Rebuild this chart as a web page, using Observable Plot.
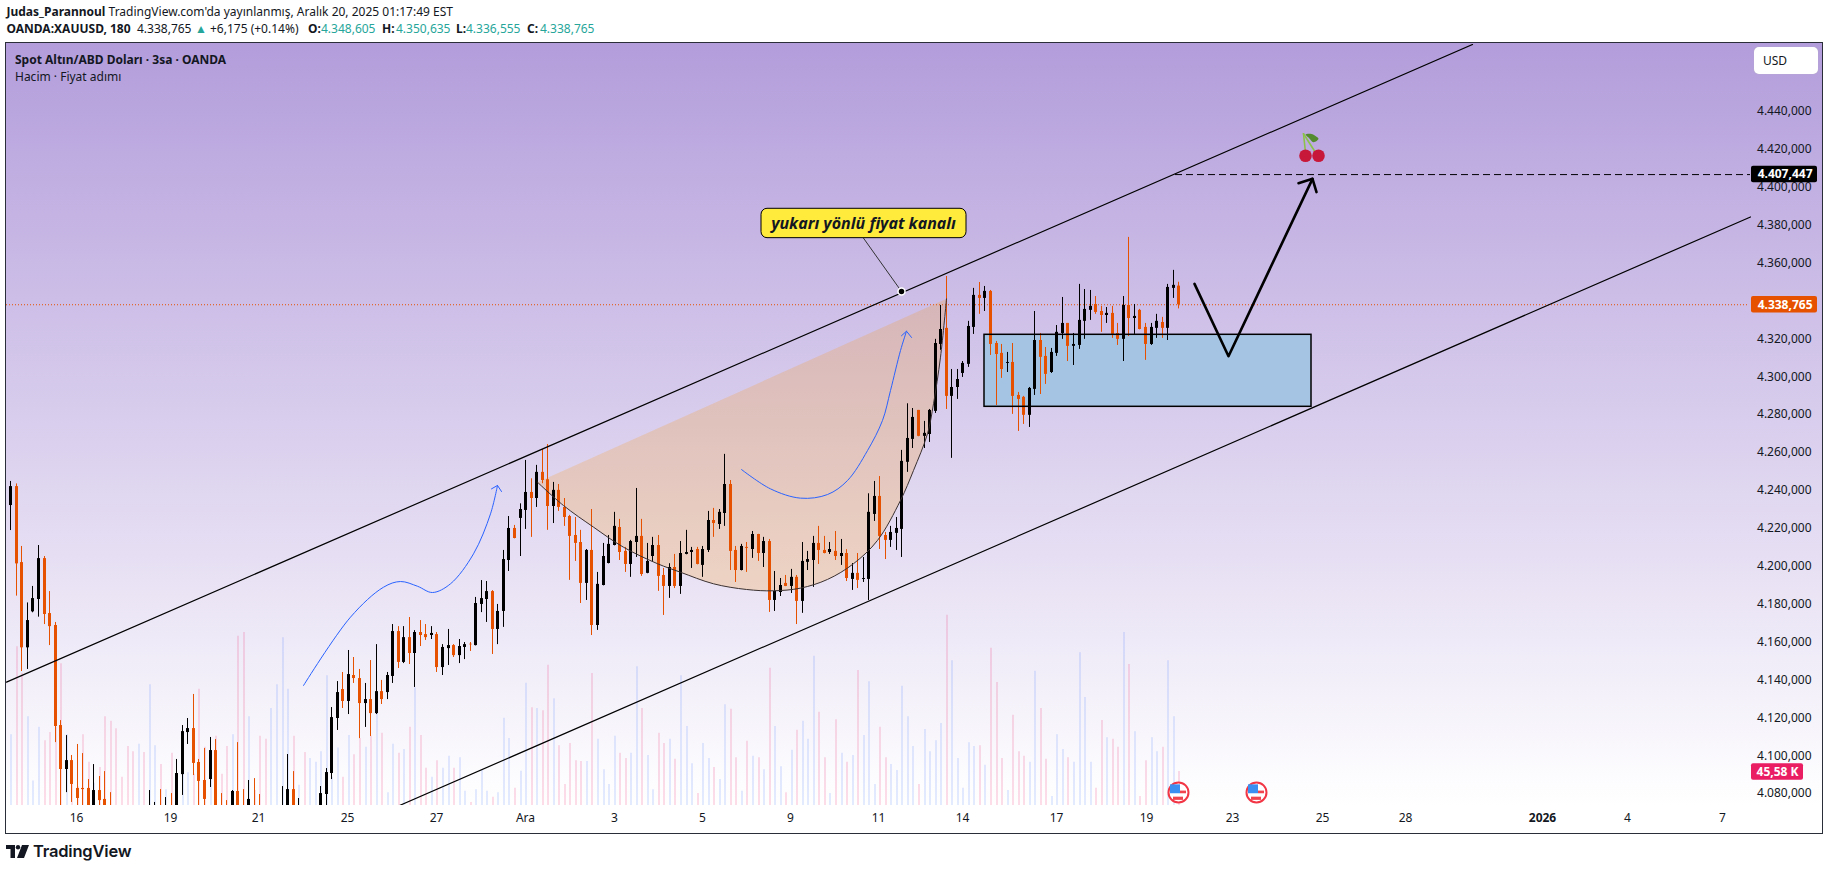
<!DOCTYPE html>
<html lang="tr">
<head>
<meta charset="utf-8">
<title>Spot Altın/ABD Doları</title>
<script src="https://cdn.jsdelivr.net/npm/d3@7"></script>
<script src="https://cdn.jsdelivr.net/npm/@observablehq/plot@0.6"></script>
<style>
html,body{margin:0;padding:0;width:1829px;height:870px;overflow:hidden;background:#fff;font-family:"Noto Sans",sans-serif;color:#131722}
.abs{position:absolute;white-space:nowrap;line-height:1}
#pane{position:absolute;left:5px;top:42px;width:1818px;height:792px;box-sizing:border-box;border:1.5px solid #2a2e39;
background:linear-gradient(to bottom,#b39ddb 0%,#ffffff 96.5%,#ffffff 100%)}
#chart{position:absolute;left:0;top:43px}
.h{font-size:12px}
.b{font-weight:700}
.t{color:#26a69a}
#usd{position:absolute;left:1754px;top:47px;width:64px;height:27px;background:#fff;border-radius:5px;font-size:12px;line-height:27px;text-indent:9px;box-shadow:0 0 1px #bbb;z-index:3}
</style>
</head>
<body>
<div id="pane"></div>
<div id="chart"></div>
<div id="usd">USD</div>
<div class="abs h" style="left:6.5px;top:6px"><span class="b">Judas_Parannoul</span> TradingView.com'da yayınlanmış, Aralık 20, 2025 01:17:49 EST</div>
<div class="abs h b" style="left:6.5px;top:23px">OANDA:XAUUSD, 180</div>
<div class="abs h" style="left:137px;top:23px">4.338,765</div>
<div class="abs h t" style="left:195px;top:23px">▲</div>
<div class="abs h" style="left:210px;top:23px">+6,175 (+0.14%)</div>
<div class="abs h b" style="left:308px;top:23px">O:</div><div class="abs h t" style="left:321px;top:23px">4.348,605</div>
<div class="abs h b" style="left:382px;top:23px">H:</div><div class="abs h t" style="left:396px;top:23px">4.350,635</div>
<div class="abs h b" style="left:456px;top:23px">L:</div><div class="abs h t" style="left:466px;top:23px">4.336,555</div>
<div class="abs h b" style="left:527px;top:23px">C:</div><div class="abs h t" style="left:540px;top:23px">4.338,765</div>
<div class="abs h b" style="left:15px;top:54px;z-index:3">Spot Altın/ABD Doları · 3sa · OANDA</div>
<div class="abs h" style="left:15px;top:71px;z-index:3">Hacim · Fiyat adımı</div>
<svg class="abs" style="left:6px;top:845px" width="23" height="13" viewBox="0 0 23 13"><path d="M0 0h9v13H4.5V4H0z M16 0h7l-5 13h-7z" fill="#131722"/><circle cx="12" cy="2.2" r="2.2" fill="#131722"/></svg>
<div class="abs" style="left:33px;top:843px;font-family:Inter,sans-serif;font-weight:600;font-size:16.5px;letter-spacing:-.2px">TradingView</div>
<script>
// Candle values, USD (oldest first, 3-hour bars)
const opens = [4232.8,4242.8,4202.7,4157.7,4176.7,4183.2,4204.8,4175.8,4169.5,4116.7,
4093.5,4098.2,4083.5,4083.5,4083.5,4073.6,4082.4,4077.7,4073.5,4070,
4069,4068,4067,4062,4068,4066,4068,4072,4067,4072,
4066,4090.8,4113.0,4115.1,4097.2,4087.7,4088.2,4103.5,4072,4072,
4068,4081.9,4070,4068,4072,4072,4068,4063,4064,4068,
4072,4082.9,4068,4069,4063,4064,4072,4080.3,4091.4,4120.4,
4135.7,4129.4,4143.1,4141.5,4128.3,4130.4,4123.0,4134.6,4134.1,4142.6,
4166.3,4150.0,4163.1,4154.7,4165.8,4164.7,4164.2,4164.7,4147.3,4157.3,
4158.9,4153.6,4157.9,4159.6,4158.9,4180.6,4183.2,4187.4,4167.4,4176.9,
4203.8,4220.7,4226.0,4230.2,4239.7,4236.5,4250.3,4246.4,4232.3,4240.8,
4231.8,4227.0,4217.0,4213.3,4191.7,4209.1,4169.5,4190.6,4202.2,4211.7,
4221.2,4208.6,4201.7,4213.3,4216.5,4197.0,4205.9,4211.7,4195.9,4190.1,
4200.1,4190.1,4207.0,4208.0,4209.6,4201.2,4209.1,4224.9,4222.8,4228.6,
4243.9,4209.1,4198.5,4210.7,4209.6,4217.5,4207.5,4213.8,4182.7,4186.9,
4191.7,4190.1,4194.9,4182.2,4202.8,4203.8,4212.8,4209.1,4208.0,4208.6,
4205.9,4207.5,4193.8,4197.0,4193.8,4193.8,4228.1,4237.6,4217.0,4214.4,
4218.1,4220.2,4255.6,4267.7,4283.0,4269.3,4270.3,4282.5,4317.8,4326.3,
4290.4,4295.1,4302.5,4307.3,4326.8,4343.7,4342.1,4345.8,4318.3,4313.1,
4307.8,4308.3,4290.9,4289.9,4280.4,4294.1,4319.9,4311.5,4303.0,4313.1,
4323.6,4328.9,4316.8,4317.3,4330.0,4335.8,4338.9,4335.2,4333.1,4334.2,
4323.6,4320.5,4338.4,4331.5,4335.8,4326.8,4317.8,4326.3,4329.4,4326.3,
4347.4,4348.605];
const closes = [4242.8,4202.0,4157.7,4172.1,4183.7,4204.8,4175.3,4168.9,4116.2,4093.5,
4098.2,4085.6,4078.2,4082.9,4073.6,4082.4,4077.1,4073.6,4070,4065,
4064,4063,4062,4068,4063,4071,4072,4067,4072,4066,
4091.4,4113.5,4115.1,4096.7,4087.2,4077.7,4103.5,4072,4068,4066,
4081.9,4068,4066,4077.7,4068,4068,4065,4068,4069,4072,
4082.9,4073.6,4072,4065,4068,4069,4080.8,4091.9,4120.9,4134.1,
4129.4,4143.6,4141.5,4128.3,4130.4,4123.0,4134.6,4130.4,4143.1,4166.3,
4150.0,4163.1,4154.7,4165.8,4164.2,4163.1,4165.3,4147.3,4157.9,4158.9,
4153.6,4158.4,4159.4,4159.3,4181.1,4183.7,4187.4,4167.4,4176.9,4204.3,
4220.7,4215.4,4230.7,4239.7,4236.5,4250.3,4246.0,4232.3,4240.8,4231.8,
4226.5,4216.5,4212.8,4191.7,4209.1,4169.5,4191.2,4205.9,4212.3,4221.8,
4208.0,4201.7,4213.8,4216.5,4196.4,4203.3,4211.7,4195.4,4190.1,4200.1,
4190.1,4207.5,4208.0,4209.1,4201.7,4209.6,4224.9,4223.3,4229.2,4243.9,
4208.6,4198.5,4211.2,4210.2,4217.5,4207.5,4213.8,4182.7,4187.5,4190.6,
4190.1,4194.9,4182.2,4203.3,4204.3,4212.8,4209.1,4207.5,4209.6,4205.9,
4207.5,4194.3,4197.0,4193.3,4194.3,4229.2,4237.6,4216.5,4214.4,4218.6,
4220.7,4256.1,4268.2,4279.3,4269.3,4270.9,4283.0,4318.3,4325.7,4290.4,
4295.1,4299.3,4307.8,4327.3,4343.7,4342.1,4345.8,4317.8,4312.5,4304.6,
4308.3,4290.4,4288.8,4280.4,4294.6,4319.9,4311.0,4302.0,4313.6,4324.2,
4328.9,4316.8,4317.8,4330.5,4336.3,4337.9,4334.7,4333.1,4334.2,4323.1,
4320.5,4338.4,4331.5,4332.6,4325.7,4317.8,4326.8,4330.0,4326.3,4347.9,
4349.0,4338.765];
const highs = [4245.5,4244.2,4211.2,4181.4,4190.1,4211.7,4205.9,4187.4,4171.1,4119.3,
4111.4,4100.9,4106.7,4101.9,4088.2,4096.1,4089.8,4092.4,4081.3,4072,
4071,4071,4070,4071,4071,4082.4,4076.1,4082.9,4078.7,4080.8,
4098.8,4116.7,4120.4,4133.1,4098.8,4104.6,4110.4,4109.3,4080.8,4077.1,
4082.4,4107.7,4082.9,4087.7,4088.7,4080.3,4071,4070,4071,4084.5,
4101.4,4092.4,4078.2,4071,4070,4071,4084.5,4094.0,4126.2,4139.9,
4144.7,4156.3,4152.6,4146.3,4138.9,4151.0,4159.4,4140.5,4144.7,4170.0,
4168.9,4168.9,4173.7,4166.8,4172.1,4170.0,4168.9,4165.8,4159.4,4167.4,
4159.4,4162.1,4160.5,4160.5,4184.3,4193.2,4192.7,4187.9,4180.6,4209.1,
4227.0,4222.3,4233.7,4256.6,4246.9,4254.0,4262.4,4265.0,4245.0,4243.9,
4236.5,4227.6,4226.5,4219.7,4209.6,4230.7,4197.5,4212.8,4217.0,4229.2,
4225.5,4210.7,4214.4,4241.8,4225.5,4212.8,4216.0,4217.0,4199.6,4202.1,
4207.0,4213.8,4219.7,4210.7,4210.7,4211.2,4229.7,4231.3,4230.7,4259.8,
4246.0,4211.2,4212.3,4213.3,4219.1,4217.6,4216.0,4214.9,4198.0,4194.3,
4195.9,4199.1,4195.9,4213.3,4208.6,4216.5,4221.8,4216.5,4213.3,4219.1,
4214.9,4209.5,4202.2,4207.5,4205.4,4239.0,4245.5,4248.1,4218.6,4221.8,
4226.5,4261.9,4286.5,4284.0,4283.0,4277.2,4283.5,4320.5,4338.4,4353.7,
4304.6,4304.6,4308.8,4330.0,4347.4,4350.5,4348.4,4346.3,4319.4,4317.8,
4313.6,4318.3,4292.5,4290.4,4295.1,4335.2,4323.6,4316.2,4315.7,4327.8,
4342.6,4328.9,4323.6,4349.5,4346.8,4346.3,4343.1,4337.9,4337.3,4337.9,
4328.9,4343.1,4374.3,4338.9,4336.3,4328.9,4328.9,4333.7,4332.1,4349.5,
4356.9,4350.635];
const lows = [4219.6,4185.0,4145.2,4146.3,4176.2,4173.9,4170.0,4158.9,4107.7,4070.1,
4081.3,4076.1,4071.9,4070.1,4066.6,4068,4070.1,4066.6,4064,4062,
4060,4060,4058,4058,4058,4060,4062,4060,4062,4060,
4060,4079.8,4106.7,4090.3,4073.6,4071.9,4084.0,4066,4062,4060,
4062,4062,4060,4062,4062,4062,4062,4060,4060,4064,
4066,4066,4064,4062,4060,4060,4066,4070,4088.2,4114.1,
4125.7,4122.5,4138.9,4109.8,4115.7,4110.9,4122.5,4127.8,4130.4,4138.9,
4146.8,4149.4,4148.9,4136.8,4158.4,4161.6,4162.1,4144.7,4143.1,4148.4,
4152.6,4149.4,4151.5,4155.8,4158.7,4176.3,4171.1,4154.2,4159.4,4168.5,
4198.0,4215.2,4205.9,4220.2,4216.0,4231.8,4244.3,4219.7,4223.3,4229.7,
4221.8,4193.3,4203.3,4181.1,4182.7,4164.2,4166.9,4190.4,4202.0,4211.5,
4203.8,4197.5,4194.9,4205.4,4195.4,4196.8,4203.3,4187.5,4174.8,4183.8,
4189.0,4185.9,4206.8,4199.6,4201.5,4194.9,4208.0,4216.0,4220.2,4221.8,
4198.5,4192.2,4198.3,4197.5,4204.9,4203.3,4200.1,4176.4,4176.9,4184.8,
4190.0,4186.4,4170.0,4175.9,4198.5,4189.6,4201.7,4207.3,4207.0,4203.8,
4201.2,4192.7,4188.0,4189.0,4192.2,4182.7,4224.4,4209.6,4204.3,4210.7,
4209.1,4205.4,4250.3,4262.9,4269.1,4262.9,4266.1,4281.4,4314.7,4283.5,
4257.7,4288.8,4300.4,4305.7,4323.1,4333.7,4335.2,4312.0,4285.6,4299.9,
4303.0,4280.9,4271.9,4275.6,4274.0,4290.9,4291.4,4296.7,4302.5,4311.5,
4320.5,4308.8,4306.7,4315.2,4320.5,4330.5,4333.7,4324.2,4328.9,4321.0,
4317.3,4308.8,4322.0,4323.1,4325.5,4309.4,4317.3,4321.0,4321.0,4319.9,
4342.1,4336.555];
const volumes = [95,213,177,119,33,105,87,98,105,190,
95,60,25,95,58,30,51,119,113,103,
38,79,72,82,71,162,80,55,21,70,
43,52,44,42,156,78,62,93,42,79,
95,227,232,119,20,93,89,130,162,225,
156,93,27,71,63,58,72,174,38,77,
38,94,68,90,78,93,123,97,17,82,
70,75,105,158,94,50,38,60,50,66,
50,64,19,4,21,47,19,11,17,117,
90,23,46,164,131,130,127,188,143,80,
28,83,60,59,59,177,89,48,28,93,
70,63,70,186,130,67,21,97,83,89,
62,174,106,56,16,83,63,51,35,135,
129,64,19,86,66,64,48,184,106,52,
17,74,101,113,89,200,125,64,16,115,
70,58,67,181,94,166,28,105,64,55,
47,160,119,79,28,102,72,87,110,255,
194,63,23,84,79,80,54,211,165,63,
20,121,72,66,58,180,130,62,12,95,
75,64,58,205,145,58,23,114,91,89,
78,232,189,99,12,60,91,72,78,194,
119,45.58];

// Axis values
const yTicks = [4080,4100,4120,4140,4160,4180,4200,4220,4240,4260,4280,4300,4320,4340,4360,4380,4400,4420,4440];
const timeIdx = [11.9,28.9,44.8,60.8,76.9,93,109.1,125,140.9,156.8,172,188.9,205.2,220.8,237,251.9,292,309.2];
const timeText = ["16","19","21","25","27","Ara","3","5","9","11","14","17","19","23","25","28","4","7"];
const yearIdx = [276.8];
const yearText = ["2026"];

// Last price and level
const lastPrice = 4338.765, targetPrice = 4407.447, lastVolume = 45.58;

// Drawings, in bar index and price
const upperChannel = [{x:-0.78,y:4139.6},{x:264.1,y:4476.1}];
const lowerChannel = [{x:70.2,y:4074.5},{x:314.3,y:4385.1}];
const bowl = [[95.2,4245.1],[99.9,4232.8],[105.3,4221.4],[110.75,4210.8],[116.8,4202.1],[121,4197.6],[127,4191.5],[133,4188.5],[137.85,4187.8],[142.7,4189.2],[147.5,4193.8],[152.3,4202.1],[156.5,4214.4],[160.7,4235.5],[163.1,4251.3],[165.6,4270.7],[166.75,4286.5],[168,4311.1],[169,4341.9]];
const demandBox = [{x1:176,x2:235,y1:4284.9,y2:4322.9}];
const blueCurveA = [[52.9,4137.8],[61.4,4173.9],[67.4,4189.7],[70.4,4192.7],[73.4,4190.2],[76.1,4186.9],[79.4,4191.5],[83.65,4207.3],[86.7,4228.4],[88,4243.4]];
const arrowHeadA = [[86.85,4241.6],[88,4243.4],[88.6,4240.2]];
const blueCurveB = [[132,4251.8],[137.3,4241.6],[142.7,4236.7],[147.5,4238.6],[151.1,4246],[154.7,4261.8],[157.4,4277.7],[158.9,4293.5],[160.7,4314.6],[161.8,4324.8]];
const arrowHeadB = [[160.9,4322.4],[161.8,4324.8],[162.7,4321.5]];
const arrowPath = [{x:213.9,y:4349.8},{x:220,y:4311.6},{x:235.1,y:4405.2}];
const arrowTip = [{x:232.6,y:4402.9},{x:235.1,y:4405.2},{x:235.9,y:4398.2}];
const calloutBox = [{x1:135.6,x2:172.6,y1:4373.9,y2:4389.4}];
const calloutLink = [{x:154.1,y:4373.9},{x:161,y:4345.75}];
const calloutPoint = [{x:161,y:4345.75}];
const cherryFruit = [{x:234,y:4417.4},{x:236.3,y:4417.4}];
const cherryStemA = [{x:233.6,y:4429},{x:234,y:4419.1}];
const cherryStemB = [{x:233.6,y:4429},{x:235.8,y:4419.1}];
const cherryLeaf = [{x:233.9,y:4428.6},{x:235,y:4428.9},{x:236.2,y:4426.3},{x:235.4,y:4424.5},{x:234.5,y:4427}];
const flagBars = [211,225.1];
const flagPrice = 4081.4;

const candles = opens.map((o,i)=>({i,o,c:closes[i],h:highs[i],l:lows[i],v:volumes[i]}));
const ups = candles.filter(d=>d.c>=d.o);
const downs = candles.filter(d=>d.c<d.o);
const ORANGE = "#e65100";
const baseY = 4074.5, volK = 0.5277/1.341; // volume pane: thousands of lots drawn on the price axis from the pane bottom
const volY = v => baseY + v*volK;
const fmt = d3.formatLocale({decimal:",",thousands:".",grouping:[3],currency:["",""]}).format(",.3f");
const xy = a => a.map(([x,y])=>({x,y}));
const priceTag = (p,fill) => Plot.rect([p],{x1:()=>314.5,x2:()=>326.4,y1:d=>d-4.35,y2:d=>d+4.35,fill,rx:2});

const chart = Plot.plot({
  width:1829, height:790,
  marginLeft:6, marginRight:6, marginTop:1, marginBottom:28,
  style:{background:"transparent",overflow:"visible",fontFamily:"'Noto Sans',sans-serif"},
  x:{domain:[-0.777,327.5],round:true,axis:null},
  y:{domain:[4074.5,4476.1],axis:null},
  marks:[
    // volume
    Plot.ruleX(ups,{x:"i",y1:baseY,y2:d=>volY(d.v),stroke:"#2962ff",strokeOpacity:.13,strokeWidth:2,dx:.5,clip:true}),
    Plot.ruleX(downs,{x:"i",y1:baseY,y2:d=>volY(d.v),stroke:"#e91e63",strokeOpacity:.15,strokeWidth:2,dx:.5,clip:true}),
    // filled drawings behind the candles
    Plot.line(xy(bowl),{x:"x",y:"y",fill:"#ff9800",fillOpacity:.2,stroke:"none",curve:"catmull-rom"}),
    Plot.rect(demandBox,{x1:"x1",x2:"x2",y1:"y1",y2:"y2",fill:"#a5c4e4"}),
    // last price
    Plot.ruleY([lastPrice],{x1:-0.777,x2:314,stroke:ORANGE,strokeWidth:1,strokeDasharray:"1,2"}),
    // candles
    Plot.ruleX(ups,{x:"i",y1:"l",y2:"h",stroke:"#000",strokeWidth:1,clip:true}),
    Plot.ruleX(ups,{x:"i",y1:"o",y2:"c",stroke:"#000",strokeWidth:3,clip:true}),
    Plot.ruleX(downs,{x:"i",y1:"l",y2:"h",stroke:ORANGE,strokeWidth:1,clip:true}),
    Plot.ruleX(downs,{x:"i",y1:"o",y2:"c",stroke:ORANGE,strokeWidth:3,clip:true}),
    // line drawings
    Plot.line(upperChannel,{x:"x",y:"y",stroke:"#000",strokeWidth:1.2,clip:true}),
    Plot.line(lowerChannel,{x:"x",y:"y",stroke:"#000",strokeWidth:1.2,clip:true}),
    Plot.line(xy(bowl),{x:"x",y:"y",stroke:"#3a3030",strokeWidth:1,curve:"catmull-rom"}),
    Plot.rect(demandBox,{x1:"x1",x2:"x2",y1:"y1",y2:"y2",fill:"none",stroke:"#000",strokeWidth:1.5}),
    Plot.line(xy(blueCurveA),{x:"x",y:"y",stroke:"#2962ff",strokeWidth:1,curve:"catmull-rom"}),
    Plot.line(xy(arrowHeadA),{x:"x",y:"y",stroke:"#2962ff",strokeWidth:1}),
    Plot.line(xy(blueCurveB),{x:"x",y:"y",stroke:"#2962ff",strokeWidth:1,curve:"catmull-rom"}),
    Plot.line(xy(arrowHeadB),{x:"x",y:"y",stroke:"#2962ff",strokeWidth:1}),
    Plot.ruleY([targetPrice],{x1:210.4,x2:314.3,stroke:"#000",strokeWidth:1,strokeDasharray:"7,4"}),
    Plot.line(arrowPath,{x:"x",y:"y",stroke:"#000",strokeWidth:2.6,strokeLinejoin:"round"}),
    Plot.line(arrowTip,{x:"x",y:"y",stroke:"#000",strokeWidth:2.6,strokeLinejoin:"round"}),
    // callout
    Plot.line(calloutLink,{x:"x",y:"y",stroke:"#333",strokeWidth:1}),
    Plot.dot(calloutPoint,{x:"x",y:"y",r:3.5,fill:"#000",stroke:"#fff",strokeWidth:1.5}),
    Plot.rect(calloutBox,{x1:"x1",x2:"x2",y1:"y1",y2:"y2",fill:"#ffeb3b",stroke:"#000",strokeWidth:1,rx:6}),
    Plot.text(["yukarı yönlü fiyat kanalı"],{x:()=>154.1,y:()=>4381.7,text:d=>d,fontSize:16,fontWeight:700,fontStyle:"italic",fill:"#131722",textAnchor:"middle"}),
    // cherry
    Plot.line(cherryStemA,{x:"x",y:"y",stroke:"#8bc34a",strokeWidth:1.6}),
    Plot.line(cherryStemB,{x:"x",y:"y",stroke:"#8bc34a",strokeWidth:1.6}),
    Plot.line(cherryLeaf,{x:"x",y:"y",fill:"#558b2f",stroke:"none",curve:"catmull-rom-closed"}),
    Plot.dot(cherryFruit,{x:"x",y:"y",r:6.3,fill:"#c8183a"}),
    // event flags
    Plot.dot(flagBars,{x:d=>d,y:()=>flagPrice,r:10,fill:"#fff",stroke:"#f23645",strokeWidth:2}),
    Plot.rect(flagBars,{x1:d=>d-1.45,x2:d=>d+.3,y1:()=>flagPrice-.7,y2:()=>flagPrice+4,fill:"#3b8ff0"}),
    Plot.rect(flagBars,{x1:d=>d+.3,x2:d=>d+1.4,y1:()=>flagPrice-.7,y2:()=>flagPrice+.7,fill:"#f0444f"}),
    Plot.rect(flagBars,{x1:d=>d-1,x2:d=>d+.9,y1:()=>flagPrice-4.2,y2:()=>flagPrice-2.5,fill:"#f0444f"}),
    // axes
    Plot.axisY({anchor:"right",ticks:yTicks,tickSize:0,tickPadding:0,textAnchor:"end",dx:-12,dy:-1.5,fontSize:12,fill:"#131722",tickFormat:fmt,label:null}),
    Plot.axisX({anchor:"bottom",ticks:timeIdx,tickSize:0,tickPadding:8,fontSize:12,fill:"#131722",label:null,tickFormat:d=>timeText[timeIdx.indexOf(d)]}),
    Plot.axisX({anchor:"bottom",ticks:yearIdx,tickSize:0,tickPadding:8,fontSize:12,fontWeight:700,fill:"#131722",label:null,tickFormat:d=>yearText[yearIdx.indexOf(d)]}),
    // price tags
    priceTag(targetPrice,"#000"),
    priceTag(lastPrice,ORANGE),
    Plot.rect([4092.2],{x1:()=>314.5,x2:()=>323.9,y1:d=>d-4.35,y2:d=>d+4.35,fill:"#e91e63",rx:2}),
    Plot.text([targetPrice,lastPrice],{x:()=>325.45,y:d=>d,text:fmt,textAnchor:"end",fill:"#fff",fontWeight:700,fontSize:12}),
    Plot.text([lastVolume],{x:()=>319.2,y:()=>4092.2,text:d=>d3.format(".2f")(d).replace(".",",")+" K",fill:"#fff",fontWeight:700,fontSize:12})
  ]
});
document.getElementById("chart").appendChild(chart);
</script>
</body>
</html>
